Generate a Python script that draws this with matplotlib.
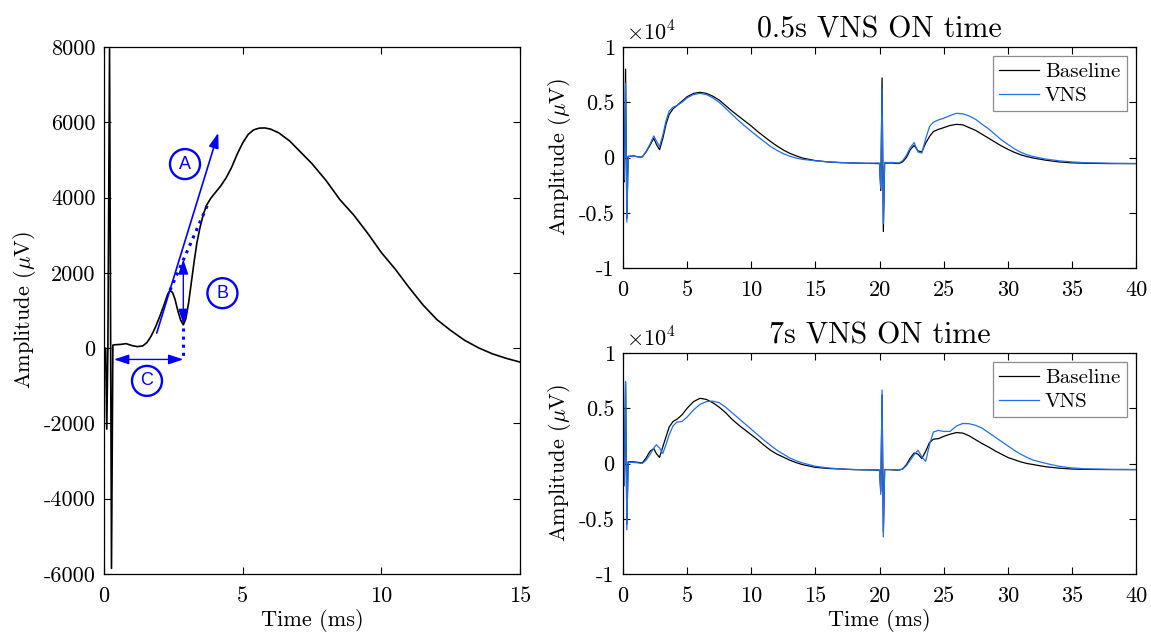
import matplotlib
matplotlib.use("Agg")
import matplotlib.pyplot as plt

plt.rcParams['font.family'] = 'serif'
plt.rcParams['font.serif'] = ['cmr10']
plt.rcParams['mathtext.fontset'] = 'cm'
plt.rcParams['axes.unicode_minus'] = False

# ---------------- Left panel: single CAP (uV) ----------------
t_left = [0, 0.06, 0.1, 0.14, 0.2, 0.27, 0.32, 0.4, 0.6, 0.8,
          1.0, 1.2, 1.4, 1.55, 1.7, 1.85, 2.0, 2.15, 2.3, 2.38,
          2.47, 2.56, 2.66, 2.76, 2.86, 2.95, 3.05, 3.15, 3.25, 3.35,
          3.46, 3.58, 3.70, 3.85, 4.0, 4.2, 4.4, 4.6, 4.8, 5.0,
          5.2, 5.4, 5.6, 5.8, 6.0, 6.3, 6.7, 7.1, 7.5, 8.0,
          8.5, 9.0, 9.5, 10.0, 10.5, 11.0, 11.5, 12.0, 12.5, 13.0,
          13.5, 14.0, 14.5, 15.0]
v_left = [0, 0, -2150, 0, 7950, -5850, 80, 90, 100, 120,
          70, 40, 60, 150, 320, 550, 820, 1120, 1440, 1530,
          1480, 1300, 1000, 750, 620, 780, 1200, 1750, 2300, 2800,
          3200, 3550, 3800, 3980, 4120, 4300, 4520, 4800, 5150, 5450,
          5680, 5800, 5845, 5850, 5820, 5720, 5500, 5200, 4900, 4460,
          3950, 3540, 3060, 2540, 2100, 1610, 1150, 760, 470, 210,
          10, -150, -270, -370]
left_yticks = [-6000, -4000, -2000, 0, 2000, 4000, 6000, 8000]
left_yticklabels = ['-6000', '-4000', '-2000', '0', '2000', '4000', '6000', '8000']
left_xticks = [0, 5, 10, 15]

# ---------------- Right panels (x 1e4 uV) ----------------
t_right = [0, 0.1, 0.2, 0.3, 0.4, 0.5, 0.8, 1.2, 1.5, 1.8,
           2.1, 2.4, 2.6, 2.85, 3.1, 3.35, 3.6, 3.9, 4.2, 4.6,
           5.0, 5.5, 6.0, 6.5, 7.0, 7.5, 8.0, 8.5, 9.0, 9.5,
           10.0, 10.5, 11.0, 11.5, 12.0, 12.5, 13.0, 13.5, 14.0, 15.0,
           16.0, 17.0, 18.0, 19.0, 20.0, 20.1, 20.2, 20.3, 20.4, 20.5,
           20.7, 21.0, 21.5, 21.8, 22.1, 22.4, 22.7, 23.0, 23.3, 23.6,
           23.9, 24.2, 24.6, 25.0, 25.5, 26.0, 26.5, 27.0, 27.5, 28.0,
           28.5, 29.0, 29.5, 30.0, 30.5, 31.0, 31.5, 32.0, 33.0, 34.0,
           35.0, 36.0, 38.0, 40.0]

baseline_05 = [0, -0.22, 0.80, -0.55, 0.01, 0.01, 0.015, 0.005, 0.005, 0.05,
               0.11, 0.175, 0.12, 0.07, 0.17, 0.30, 0.39, 0.44, 0.47, 0.51,
               0.55, 0.58, 0.59, 0.58, 0.555, 0.52, 0.47, 0.42, 0.375, 0.33,
               0.285, 0.235, 0.19, 0.145, 0.105, 0.068, 0.038, 0.015, -0.005, -0.028,
               -0.04, -0.047, -0.05, -0.053, -0.055, -0.3, 0.72, -0.67, -0.05, -0.05,
               -0.05, -0.05, -0.055, -0.04, 0.0, 0.07, 0.11, 0.06, 0.05, 0.13,
               0.19, 0.235, 0.255, 0.27, 0.29, 0.30, 0.295, 0.27, 0.245, 0.21,
               0.175, 0.14, 0.105, 0.075, 0.048, 0.025, 0.008, -0.005, -0.025, -0.04,
               -0.048, -0.052, -0.055, -0.055]
vns_05 = [0, -0.2, 0.67, -0.585, 0.01, 0.01, 0.015, 0.005, 0.005, 0.055,
          0.12, 0.195, 0.15, 0.10, 0.20, 0.33, 0.42, 0.455, 0.47, 0.50,
          0.54, 0.57, 0.58, 0.57, 0.54, 0.50, 0.445, 0.39, 0.335, 0.285,
          0.237, 0.19, 0.145, 0.10, 0.065, 0.035, 0.012, -0.005, -0.017, -0.03,
          -0.04, -0.045, -0.05, -0.052, -0.05, -0.28, 0.62, -0.6, -0.045, -0.045,
          -0.045, -0.045, -0.05, -0.03, 0.02, 0.09, 0.135, 0.05, 0.04, 0.17,
          0.28, 0.32, 0.34, 0.355, 0.38, 0.40, 0.395, 0.375, 0.345, 0.30,
          0.26, 0.21, 0.16, 0.12, 0.08, 0.048, 0.025, 0.008, -0.015, -0.03,
          -0.04, -0.047, -0.052, -0.055]
baseline_7 = [0, -0.2, 0.74, -0.55, 0.015, 0.015, 0.015, 0.01, 0.005, 0.05,
              0.11, 0.135, 0.09, 0.055, 0.15, 0.24, 0.33, 0.38, 0.40, 0.44,
              0.50, 0.56, 0.59, 0.58, 0.55, 0.51, 0.46, 0.40, 0.35, 0.305,
              0.26, 0.215, 0.165, 0.12, 0.085, 0.058, 0.03, 0.008, -0.01, -0.035,
              -0.045, -0.05, -0.055, -0.058, -0.06, -0.25, 0.62, -0.62, -0.055, -0.055,
              -0.055, -0.058, -0.06, -0.05, -0.01, 0.05, 0.095, 0.085, 0.045, 0.11,
              0.19, 0.22, 0.225, 0.245, 0.265, 0.28, 0.275, 0.25, 0.215, 0.18,
              0.15, 0.115, 0.085, 0.055, 0.035, 0.015, 0.0, -0.01, -0.03, -0.042,
              -0.05, -0.053, -0.055, -0.055]
vns_7 = [0, -0.2, 0.74, -0.6, 0.01, 0.01, 0.01, 0.005, 0.0, 0.03,
         0.08, 0.14, 0.17, 0.14, 0.09, 0.17, 0.26, 0.34, 0.375, 0.38,
         0.42, 0.485, 0.535, 0.56, 0.565, 0.55, 0.51, 0.46, 0.41, 0.36,
         0.31, 0.26, 0.21, 0.165, 0.12, 0.085, 0.05, 0.025, 0.005, -0.025,
         -0.04, -0.05, -0.055, -0.057, -0.058, -0.28, 0.665, -0.665, -0.055, -0.055,
         -0.055, -0.055, -0.058, -0.05, -0.02, 0.03, 0.08, 0.12, 0.06, 0.02,
         0.17, 0.285, 0.30, 0.29, 0.29, 0.34, 0.362, 0.36, 0.345, 0.32,
         0.28, 0.24, 0.20, 0.16, 0.12, 0.085, 0.055, 0.03, 0.0, -0.025,
         -0.04, -0.048, -0.053, -0.055]
right_yticks = [-1, -0.5, 0, 0.5, 1]
right_yticklabels = ['-1', '-0.5', '0', '0.5', '1']
right_xticks = [0, 5, 10, 15, 20, 25, 30, 35, 40]
titles = ['0.5s VNS ON time', '7s VNS ON time']
legend_labels = ['Baseline', 'VNS']

# annotation anchor points (ms, uV)
A_start, A_end = (1.9, 400), (4.12, 5720)
dot_start, dot_end = (2.38, 1540), (3.78, 3880)
B_x, B_lo, B_hi = 2.86, 640, 2360
Cdot_lo = -300
C_y, C_lo, C_hi = -300, 0.36, 2.86
circ_A, circ_B, circ_C = (2.92, 4890), (4.27, 1460), (1.55, -870)

BLUE_ANN = '#0000ff'
BASE_C = '#000000'
VNS_C = '#1f6ff0'
FS = 16

W, H = 1151, 637
fig = plt.figure(figsize=(W / 100, H / 100), dpi=100)
axL = fig.add_axes([104 / W, 1 - 574 / H, 416 / W, 527 / H])
axT = fig.add_axes([623 / W, 1 - 268 / H, 513 / W, 221 / H])
axB = fig.add_axes([623 / W, 1 - 574 / H, 513 / W, 221 / H])

def style(ax):
    ax.tick_params(direction='in', top=True, right=True, length=5, width=0.8,
                   labelsize=FS)
    ax.tick_params(axis='y', pad=6)
    ax.tick_params(axis='x', pad=9)
    for s in ax.spines.values():
        s.set_linewidth(0.9)

# left panel
axL.plot(t_left, v_left, color=BASE_C, lw=1.2)
axL.set_xlim(0, 15)
axL.set_ylim(-6000, 8000)
axL.set_xticks(left_xticks, [str(x) for x in left_xticks])
axL.set_yticks(left_yticks, left_yticklabels)
axL.set_xlabel('Time (ms)', fontsize=FS, labelpad=2)
axL.set_ylabel(r'Amplitude ($\mu$V)', fontsize=FS)
style(axL)

axL.annotate('', xy=A_end, xytext=A_start,
             arrowprops=dict(arrowstyle='-|>,head_length=0.9,head_width=0.3',
                             color=BLUE_ANN, lw=1.2, shrinkA=0, shrinkB=0))
axL.plot([dot_start[0], dot_end[0]], [dot_start[1], dot_end[1]], ':',
         color=BLUE_ANN, lw=2.2)
axL.annotate('', xy=(B_x, B_lo), xytext=(B_x, B_hi),
             arrowprops=dict(arrowstyle='<|-|>,head_length=0.9,head_width=0.3',
                             color=BLUE_ANN, lw=1.0, shrinkA=0, shrinkB=0))
axL.plot([B_x, B_x], [B_lo - 100, Cdot_lo], ':', color=BLUE_ANN, lw=2.2)
axL.annotate('', xy=(C_lo, C_y), xytext=(C_hi, C_y),
             arrowprops=dict(arrowstyle='<|-|>,head_length=0.9,head_width=0.3',
                             color=BLUE_ANN, lw=1.0, shrinkA=0, shrinkB=0))
for lab, pos in zip(['A', 'B', 'C'], [circ_A, circ_B, circ_C]):
    axL.text(pos[0], pos[1], lab, ha='center', va='center', fontsize=13,
             family='Liberation Sans', color=BLUE_ANN,
             bbox=dict(boxstyle='circle,pad=0.36', fc='none', ec=BLUE_ANN, lw=1.7))

# right panels
for ax, base, vns, title in [(axT, baseline_05, vns_05, titles[0]),
                             (axB, baseline_7, vns_7, titles[1])]:
    ax.plot(t_right, base, color=BASE_C, lw=0.9, label=legend_labels[0])
    ax.plot(t_right, vns, color=VNS_C, lw=0.9, label=legend_labels[1])
    ax.set_xlim(0, 40)
    ax.set_ylim(-1, 1)
    ax.set_xticks(right_xticks, [str(x) for x in right_xticks])
    ax.set_yticks(right_yticks, right_yticklabels)
    ax.set_ylabel(r'Amplitude ($\mu$V)', fontsize=FS)
    ax.set_title(title, fontsize=21.5, pad=7)
    ax.text(0.005, 1.01, r'$\times10^{4}$', transform=ax.transAxes,
            ha='left', va='bottom', fontsize=FS)
    style(ax)
    leg = ax.legend(loc='upper right', fontsize=15, fancybox=False,
                    edgecolor='#8c8c8c', framealpha=1, handlelength=1.9,
                    handletextpad=0.3, borderpad=0.3, labelspacing=0.25,
                    borderaxespad=0.45)
    leg.get_frame().set_linewidth(0.9)
axB.set_xlabel('Time (ms)', fontsize=FS, labelpad=2)

fig.savefig('out.png', dpi=100)
